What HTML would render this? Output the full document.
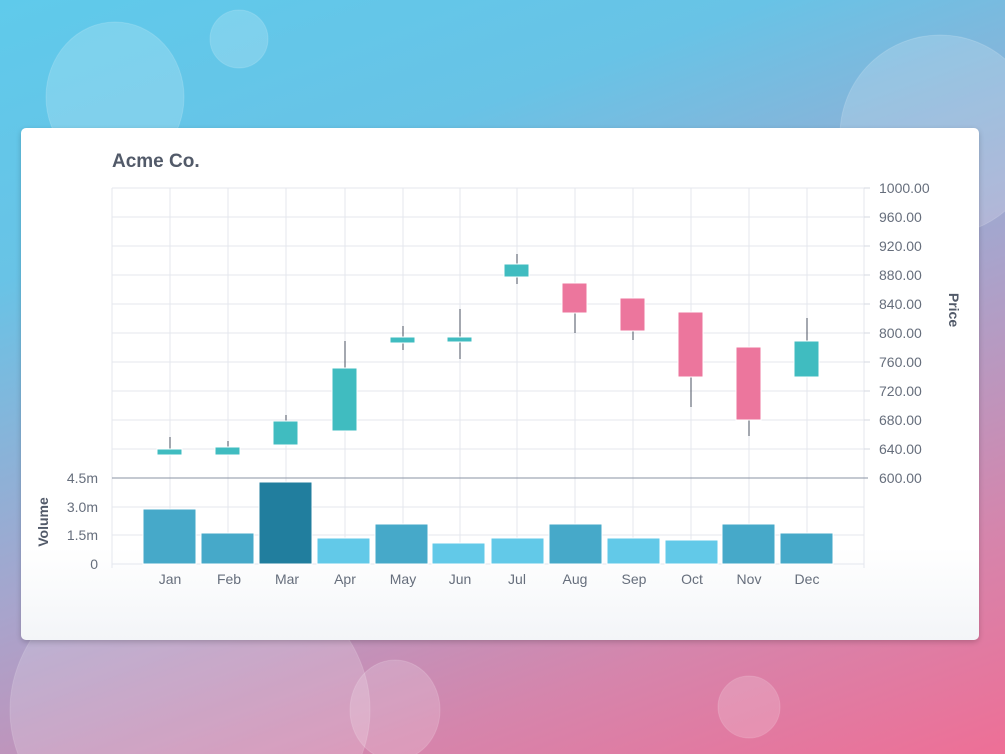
<!DOCTYPE html>
<html><head><style>
html,body{margin:0;padding:0;width:1005px;height:754px;overflow:hidden}
#w{position:relative;width:1005px;height:754px;overflow:hidden;background:linear-gradient(160deg,#5fcaeb 0%,#68c3e6 25%,#a8a4cc 55%,#d585ac 80%,#ee6f96 100%);font-family:"Liberation Sans",sans-serif}
.card{position:absolute;left:21px;top:128px;width:958px;height:512px;background:linear-gradient(#fff 0%,#fff 82%,#f3f5f8 100%);border-radius:5px;box-shadow:0 2px 6px rgba(0,0,0,0.2)}
svg{position:absolute;left:0;top:0;display:block}
</style></head><body><div id="w">
<svg width="1005" height="754">
<g fill="rgba(255,255,255,0.18)" stroke="rgba(255,255,255,0.15)">
<ellipse cx="115" cy="97" rx="69" ry="75"/>
<circle cx="239" cy="39" r="29"/>
<circle cx="940" cy="135" r="100"/>
<ellipse cx="190" cy="710" rx="180" ry="150"/>
<ellipse cx="395" cy="710" rx="45" ry="50"/>
<circle cx="749" cy="707" r="31"/>
</g>
</svg>
<div class="card"></div>
<svg width="1005" height="754" font-family="Liberation Sans, sans-serif">
<text x="112" y="167" font-size="19" font-weight="bold" fill="#525a69">Acme Co.</text>
<g stroke="#e4e7ee" stroke-width="1">
<line x1="112" y1="188" x2="864" y2="188"/><line x1="112" y1="217" x2="864" y2="217"/><line x1="112" y1="246" x2="864" y2="246"/><line x1="112" y1="275" x2="864" y2="275"/><line x1="112" y1="304" x2="864" y2="304"/><line x1="112" y1="333" x2="864" y2="333"/><line x1="112" y1="362" x2="864" y2="362"/><line x1="112" y1="391" x2="864" y2="391"/><line x1="112" y1="420" x2="864" y2="420"/><line x1="112" y1="449" x2="864" y2="449"/>
<line x1="112" y1="507" x2="864" y2="507"/><line x1="112" y1="535" x2="864" y2="535"/><line x1="112" y1="564" x2="864" y2="564"/>
<line x1="112" y1="188" x2="112" y2="568"/><line x1="170" y1="188" x2="170" y2="564"/><line x1="228" y1="188" x2="228" y2="564"/><line x1="286" y1="188" x2="286" y2="564"/><line x1="345" y1="188" x2="345" y2="564"/><line x1="403" y1="188" x2="403" y2="564"/><line x1="460" y1="188" x2="460" y2="564"/><line x1="517" y1="188" x2="517" y2="564"/><line x1="575" y1="188" x2="575" y2="564"/><line x1="633" y1="188" x2="633" y2="564"/><line x1="691" y1="188" x2="691" y2="564"/><line x1="749" y1="188" x2="749" y2="564"/><line x1="807" y1="188" x2="807" y2="564"/><line x1="864" y1="188" x2="864" y2="568"/>
</g>
<line x1="112" y1="478" x2="868" y2="478" stroke="#8a93a3" stroke-width="1"/>
<g stroke="#d6dae2"><line x1="864" y1="188" x2="870" y2="188"/><line x1="864" y1="217" x2="870" y2="217"/><line x1="864" y1="246" x2="870" y2="246"/><line x1="864" y1="275" x2="870" y2="275"/><line x1="864" y1="304" x2="870" y2="304"/><line x1="864" y1="333" x2="870" y2="333"/><line x1="864" y1="362" x2="870" y2="362"/><line x1="864" y1="391" x2="870" y2="391"/><line x1="864" y1="420" x2="870" y2="420"/><line x1="864" y1="449" x2="870" y2="449"/></g>
<g font-size="14" fill="#666e7c">
<text x="879" y="193">1000.00</text><text x="879" y="222">960.00</text><text x="879" y="251">920.00</text><text x="879" y="280">880.00</text><text x="879" y="309">840.00</text><text x="879" y="338">800.00</text><text x="879" y="367">760.00</text><text x="879" y="396">720.00</text><text x="879" y="425">680.00</text><text x="879" y="454">640.00</text><text x="879" y="483">600.00</text>
<g text-anchor="end"><text x="98" y="483">4.5m</text><text x="98" y="512">3.0m</text><text x="98" y="540">1.5m</text><text x="98" y="569">0</text></g>
<g text-anchor="middle"><text x="170" y="584">Jan</text><text x="229" y="584">Feb</text><text x="287" y="584">Mar</text><text x="345" y="584">Apr</text><text x="403" y="584">May</text><text x="460" y="584">Jun</text><text x="517" y="584">Jul</text><text x="575" y="584">Aug</text><text x="634" y="584">Sep</text><text x="692" y="584">Oct</text><text x="749" y="584">Nov</text><text x="807" y="584">Dec</text></g>
</g>
<text transform="translate(48,522) rotate(-90)" text-anchor="middle" font-size="14" font-weight="bold" fill="#525a69">Volume</text>
<text transform="translate(949,310) rotate(90)" text-anchor="middle" font-size="14" font-weight="bold" fill="#525a69">Price</text>
<g stroke="#4a5260" stroke-width="1">
<line x1="170" y1="437" x2="170" y2="449"/><line x1="228" y1="441" x2="228" y2="447"/><line x1="286" y1="415" x2="286" y2="421"/><line x1="345" y1="341" x2="345" y2="368"/><line x1="403" y1="326" x2="403" y2="350"/><line x1="460" y1="309" x2="460" y2="359"/><line x1="517" y1="254" x2="517" y2="284"/><line x1="575" y1="312" x2="575" y2="333"/><line x1="633" y1="331" x2="633" y2="340"/><line x1="691" y1="377" x2="691" y2="407"/><line x1="749" y1="420" x2="749" y2="436"/><line x1="807" y1="318" x2="807" y2="341"/>
</g>
<g fill="#40bcc0" stroke="#fff" stroke-width="1">
<rect x="157" y="449" width="25" height="6"/><rect x="215" y="447" width="25" height="8"/><rect x="273" y="421" width="25" height="24"/><rect x="332" y="368" width="25" height="63"/><rect x="390" y="337" width="25" height="6"/><rect x="447" y="337" width="25" height="5"/><rect x="504" y="264" width="25" height="13"/><rect x="794" y="341" width="25" height="36"/>
</g>
<g fill="#ec769d" stroke="#fff" stroke-width="1">
<rect x="562" y="283" width="25" height="30"/><rect x="620" y="298" width="25" height="33"/><rect x="678" y="312" width="25" height="65"/><rect x="736" y="347" width="25" height="73"/>
</g>
<g stroke="#fff" stroke-width="1">
<rect x="143" y="509" width="53" height="55" fill="#46a9c9"/><rect x="201" y="533" width="53" height="31" fill="#46a9c9"/><rect x="259" y="482" width="53" height="82" fill="#217e9e"/><rect x="317" y="538" width="53" height="26" fill="#62c9e8"/><rect x="375" y="524" width="53" height="40" fill="#46a9c9"/><rect x="432" y="543" width="53" height="21" fill="#62c9e8"/><rect x="491" y="538" width="53" height="26" fill="#62c9e8"/><rect x="549" y="524" width="53" height="40" fill="#46a9c9"/><rect x="607" y="538" width="53" height="26" fill="#62c9e8"/><rect x="665" y="540" width="53" height="24" fill="#62c9e8"/><rect x="722" y="524" width="53" height="40" fill="#46a9c9"/><rect x="780" y="533" width="53" height="31" fill="#46a9c9"/>
</g>
</svg>
</div></body></html>
